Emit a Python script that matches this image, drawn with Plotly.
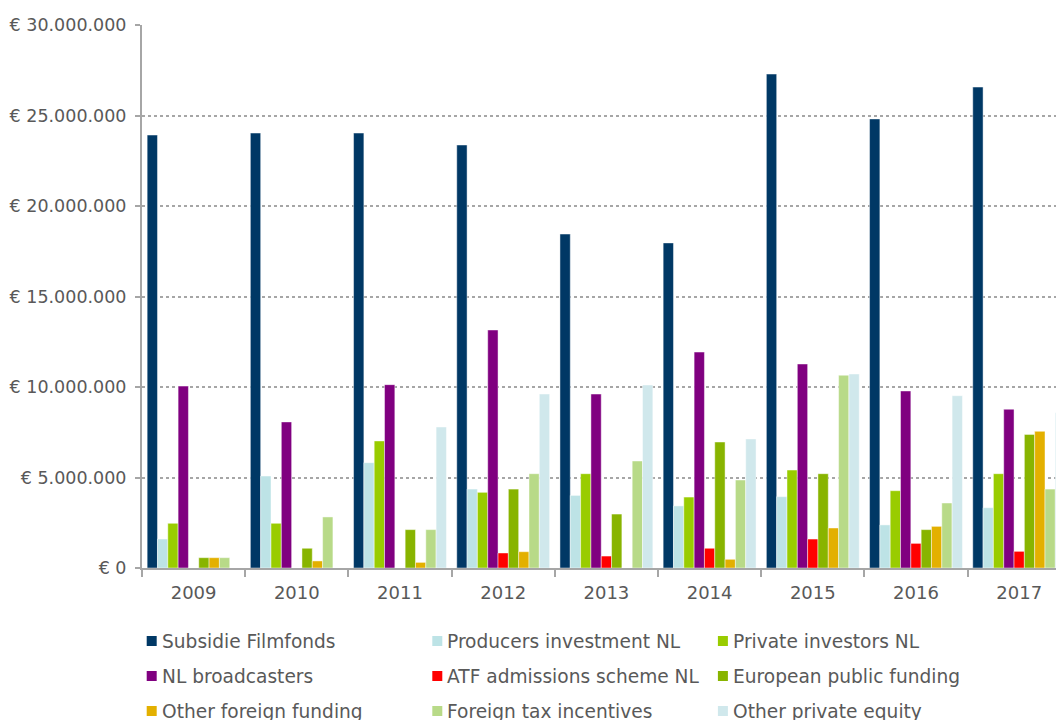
import plotly.graph_objects as go

years = ["2009", "2010", "2011", "2012", "2013", "2014", "2015", "2016", "2017"]

subsidie_filmfonds = [23.92e6, 24.03e6, 24.03e6, 23.37e6, 18.45e6, 17.96e6, 27.29e6, 24.81e6, 26.57e6]
producers_investment_nl = [1.60e6, 5.08e6, 5.82e6, 4.36e6, 4.01e6, 3.43e6, 3.94e6, 2.38e6, 3.33e6]
private_investors_nl = [2.47e6, 2.47e6, 7.02e6, 4.18e6, 5.21e6, 3.92e6, 5.41e6, 4.27e6, 5.21e6]
nl_broadcasters = [10.05e6, 8.07e6, 10.13e6, 13.15e6, 9.61e6, 11.93e6, 11.27e6, 9.78e6, 8.77e6]
atf_admissions_scheme_nl = [0, 0, 0, 0.83e6, 0.66e6, 1.09e6, 1.60e6, 1.36e6, 0.92e6]
european_public_funding = [0.57e6, 1.09e6, 2.12e6, 4.36e6, 2.98e6, 6.96e6, 5.21e6, 2.12e6, 7.38e6]
other_foreign_funding = [0.57e6, 0.39e6, 0.31e6, 0.90e6, 0, 0.48e6, 2.21e6, 2.30e6, 7.55e6]
foreign_tax_incentives = [0.57e6, 2.82e6, 2.12e6, 5.21e6, 5.91e6, 4.86e6, 10.65e6, 3.59e6, 4.36e6]
other_private_equity = [0, 0, 7.79e6, 9.61e6, 10.11e6, 7.13e6, 10.72e6, 9.52e6, 8.58e6]

series_names = [
    "Subsidie Filmfonds", "Producers investment NL", "Private investors NL",
    "NL broadcasters", "ATF admissions scheme NL", "European public funding",
    "Other foreign funding", "Foreign tax incentives", "Other private equity",
]
series_values = [
    subsidie_filmfonds, producers_investment_nl, private_investors_nl,
    nl_broadcasters, atf_admissions_scheme_nl, european_public_funding,
    other_foreign_funding, foreign_tax_incentives, other_private_equity,
]
colors = ["#003865", "#BDE3E6", "#99CC00", "#800080", "#FF0000",
          "#88B400", "#E3B000", "#B8DA88", "#D0E8EC"]

tick_vals = [0, 5e6, 10e6, 15e6, 20e6, 25e6, 30e6]
tick_text = ["€ 0", "€ 5.000.000", "€ 10.000.000", "€ 15.000.000",
             "€ 20.000.000", "€ 25.000.000", "€ 30.000.000"]

FONT = "DejaVu Sans"
TXT = "#595959"
W, H = 1056, 720
ML, MT = 142, 25
MB = H - 568
PW = W - ML
PH = H - MT - MB

fig = go.Figure()
for name, vals, col in zip(series_names, series_values, colors):
    fig.add_trace(go.Bar(
        x=years, y=vals, name=name, marker_color=col,
        marker_line=dict(color="rgba(255,255,255,0.45)", width=1),
        showlegend=False,
    ))

# custom legend (3 columns); coordinates given in window pixels
def px_x(p):
    return (p - ML) / PW

def px_y(p):
    return (H - MB - p) / PH

shapes = []
annotations = []
for i, (name, col) in enumerate(zip(series_names, colors)):
    r, c = divmod(i, 3)
    sx = 146.7 + c * 285.6
    cy = 641.0 + r * 35
    shapes.append(dict(type="rect", xref="paper", yref="paper",
                       x0=px_x(sx), x1=px_x(sx + 10),
                       y0=px_y(cy + 5), y1=px_y(cy - 5),
                       fillcolor=col, line=dict(width=0)))
    annotations.append(dict(xref="paper", yref="paper", x=px_x(sx + 13), y=px_y(cy),
                            xanchor="left", yanchor="middle", showarrow=False,
                            text=name, font=dict(family=FONT, size=18.6, color=TXT)))

cat_w = 103.2
x_right = -0.5 + PW / cat_w

fig.update_layout(
    width=W, height=H,
    margin=dict(l=ML, r=0, t=MT, b=MB, pad=0),
    paper_bgcolor="white", plot_bgcolor="white",
    barmode="group", bargap=0.1, bargroupgap=0,
    font=dict(family=FONT, size=18, color=TXT),
    shapes=shapes, annotations=annotations,
)
fig.update_xaxes(
    type="category", range=[-0.5, x_right],
    showline=True, linecolor="#A6A6A6", linewidth=2,
    ticks="outside", tickson="boundaries", ticklen=7, tickwidth=2, tickcolor="#A6A6A6",
    showgrid=False, ticklabelstandoff=7,
    tickfont=dict(family=FONT, size=18, color=TXT),
)
fig.update_yaxes(
    range=[0, 30e6], tickvals=tick_vals, ticktext=tick_text,
    showline=True, linecolor="#A6A6A6", linewidth=2,
    ticks="outside", ticklen=5, tickwidth=2, tickcolor="#A6A6A6",
    showgrid=True, gridcolor="#A6A6A6", griddash="dot", gridwidth=2,
    zeroline=False, ticklabelstandoff=5,
    tickfont=dict(family=FONT, size=17.5, color=TXT),
)

fig.write_html(
    "out.html",
    config={"displayModeBar": False},
    post_script="document.body.style.margin='0';document.body.style.overflow='hidden';",
)
